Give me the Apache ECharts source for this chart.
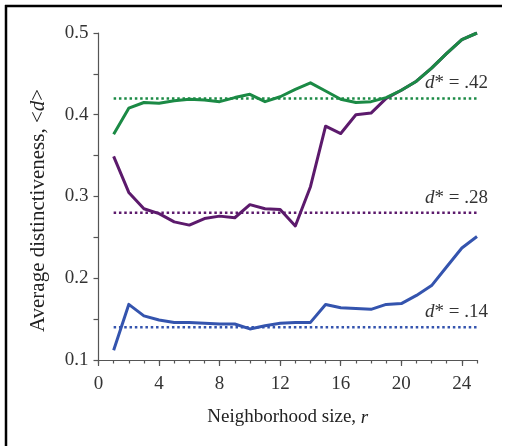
<!DOCTYPE html>
<html>
<head>
<meta charset="utf-8">
<style>html,body{margin:0;padding:0;background:#fff;}#c{width:506px;height:446px;}</style>
<script src="https://cdn.jsdelivr.net/npm/echarts@6/dist/echarts.min.js"></script>
</head>
<body>
<div id="c"></div>
<script>
var r = [1,2,3,4,5,6,7,8,9,10,11,12,13,14,15,16,17,18,19,20,21,22,23,24,25];
var green = [0.376,0.408,0.415,0.414,0.417,0.419,0.418,0.416,0.421,0.425,0.416,0.422,0.431,0.439,0.429,0.419,0.415,0.416,0.421,0.430,0.441,0.457,0.475,0.492,0.500];
var purple = [0.349,0.305,0.285,0.279,0.269,0.265,0.273,0.276,0.274,0.290,0.285,0.284,0.264,0.312,0.386,0.377,0.400,0.402,0.420,0.430,0.441,0.457,0.475,0.492,0.500];
var blue = [0.112,0.168,0.154,0.149,0.146,0.146,0.145,0.144,0.144,0.138,0.142,0.145,0.146,0.146,0.168,0.164,0.163,0.162,0.168,0.169,0.179,0.191,0.214,0.237,0.251];
var thresholds = [0.42, 0.28, 0.14];
var thresholdLabels = ['.42', '.28', '.14'];
var xTickLabels = [0,4,8,12,16,20,24];
var yTickLabels = [0.1,0.2,0.3,0.4,0.5];
var colors = ['#1b8a45', '#5c1a6c', '#3454ae'];

var FONT = '"Liberation Serif", "Times New Roman", serif';
function pairs(ys){ return r.map(function(x,i){ return [x, ys[i]]; }); }

var series = [];
// dotted reference lines
thresholds.forEach(function(t, k){
  series.push({
    type:'line', xAxisIndex:0,
    data:[[r[0], t],[r[r.length-1], t]],
    symbol:'none', silent:true,
    lineStyle:{color:colors[k], width:2.5, type:[2.5,2.8], cap:'butt'},
    endLabel:{show:true, distance:11, align:'right', verticalAlign:'middle', offset:[0,-15],
      formatter:'{i|d}{a|* = ' + thresholdLabels[k] + '}',
      rich:{ i:{fontFamily:FONT, fontStyle:'italic', fontSize:19, color:'#333'},
             a:{fontFamily:FONT, fontSize:19, color:'#333'} }
    },
    z:2
  });
});
// main lines: purple, blue, green (green on top)
[[purple,1],[blue,2],[green,0]].forEach(function(p){
  series.push({
    type:'line', xAxisIndex:0, data:pairs(p[0]), symbol:'none',
    lineStyle:{color:colors[p[1]], width:3, join:'round'}, z:3
  });
});

var chart = echarts.init(document.getElementById('c'), null, {renderer:'canvas'});
chart.setOption({
  animation:false,
  backgroundColor:'#fff',
  grid:{left:98.5, right:29, top:33, bottom:86, containLabel:false},
  xAxis:[{
    type:'value', min:0, max:25, interval:1,
    name:'{a|Neighborhood size, }{i|r}', nameLocation:'middle', nameGap:48,
    nameTextStyle:{rich:{a:{fontFamily:FONT, fontSize:19, color:'#222'}, i:{fontFamily:FONT, fontSize:19, fontStyle:'italic', color:'#222'}}},
    axisLine:{show:true, onZero:false, lineStyle:{color:'#555', width:1.2}},
    axisTick:{show:true, length:3.5, lineStyle:{color:'#555', width:1.2}},
    axisLabel:{show:true, customValues:xTickLabels, margin:15, fontFamily:FONT, fontSize:19, color:'#333'},
    splitLine:{show:false}
  },{
    type:'value', min:0, max:25, interval:1, position:'bottom',
    axisLine:{show:false},
    axisTick:{show:true, customValues:xTickLabels, length:6, lineStyle:{color:'#555', width:1.2}},
    axisLabel:{show:false},
    splitLine:{show:false}
  }],
  yAxis:{
    type:'value', min:0.1, max:0.5, interval:0.05,
    name:'{a|Average distinctiveness, <}{i|d}{a|>}', nameLocation:'middle', nameGap:50, nameRotate:90,
    nameTextStyle:{padding:[0,28,0,0], rich:{a:{fontFamily:FONT, fontSize:21, color:'#222'}, i:{fontFamily:FONT, fontSize:21, fontStyle:'italic', color:'#222'}}},
    axisLine:{show:true, lineStyle:{color:'#555', width:1.2}},
    axisTick:{show:true, length:5, lineStyle:{color:'#555', width:1.2}},
    axisLabel:{show:true, customValues:yTickLabels, margin:10, fontFamily:FONT, fontSize:19, color:'#333',
      formatter:function(v){ return v.toFixed(1); }},
    splitLine:{show:false}
  },
  graphic:[
    {type:'line', shape:{x1:5, y1:6, x2:502, y2:6}, style:{stroke:'#000', lineWidth:2.5}, silent:true},
    {type:'line', shape:{x1:6, y1:5, x2:6, y2:446}, style:{stroke:'#000', lineWidth:2.5}, silent:true}
  ],
  series:series
});
</script>
</body>
</html>
